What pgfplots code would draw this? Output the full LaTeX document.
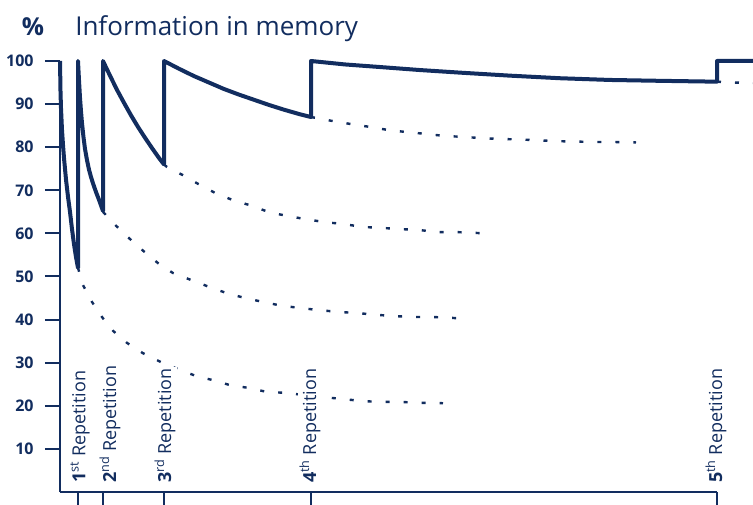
\documentclass[border=0pt]{standalone}
\usepackage{pgfplots}
\pgfplotsset{compat=1.18}
\usepackage{fontspec}
\setmainfont{Open Sans}
\definecolor{navy}{RGB}{18,45,95}
\tikzset{
  repet/.style={rotate=90, anchor=west, inner sep=1.5pt, fill=white,
    font=\fontsize{13.5}{15}\selectfont, text=navy},
  forget/.style={navy, line width=1.8pt, dash pattern=on 3pt off 10.5pt},
}

\begin{document}
\begin{tikzpicture}
\useasboundingbox (0,0) rectangle (564.75pt,378pt);
\begin{axis}[
  at={(45pt,9pt)}, anchor=south west,
  x=0.75pt, y=3.2325pt,
  xmin=0, xmax=657, ymin=0, ymax=100,
  axis lines=left,
  axis line style={-, line width=1.5pt, navy},
  clip=false,
  xtick={18,43,104,251,657}, xticklabels={},
  ytick={10,20,...,100},
  tick align=outside, major tick length=11.25pt,
  tick style={line width=1.5pt, navy},
  /pgf/number format/assume math mode=true,
  yticklabel style={font=\fontsize{12}{14}\selectfont\bfseries, text=navy, xshift=-5pt},
]
% forgetting curves without repetition
\addplot[forget] coordinates {(18,52) (23,48) (32,44.1) (42,40.6) (53,37.4) (67,34.6)
  (83,32.2) (104,29.8) (135,27) (152,26) (170,24.8) (190,24.1) (207,23.2) (227,23)
  (250,22.3) (282,21.6) (302,21.1) (320,20.9) (340,20.9) (360,20.7) (383,20.6)};
\addplot[forget] coordinates {(43,65) (55,62) (69,58.9) (83,56) (98,53.1) (113,50.8)
  (131,49.2) (149,47.6) (166,46.2) (185,45) (203,44.1) (222,43.2) (240,42.7) (259,42.2)
  (278,41.8) (298,41.5) (317,41.1) (335,40.8) (355,40.6) (373,40.6) (392,40.4) (398,40.3)};
\addplot[forget] coordinates {(104,76) (107,75.4) (123,73.5) (138,71.5) (155,69.4)
  (173,67.7) (192,66.4) (208,65) (228,64) (246,63.3) (265,62.6) (283,62.2) (302,61.5)
  (320,61.3) (340,61) (359,60.8) (377,60.3) (397,60.3) (417,60.1) (423,60)};
\addplot[forget] coordinates {(251,87) (272,86.1) (290,85.4) (310,84.7) (328,84)
  (347,83.5) (365,83.1) (385,82.6) (403,82.4) (422,82.1) (440,81.9) (460,81.8)
  (478,81.6) (497,81.4) (517,81.3) (535,81.2) (555,81.2) (576,81.1)};
\addplot[forget] coordinates {(657,95.2) (675,95.0) (693,94.9)};
% memory with repetitions
\addplot[navy, line width=3pt, line join=round] coordinates {
  (0,100) (0.5,93) (1,89) (2,84) (3,80.5) (4,77.5) (6,72.5) (8,68.5) (10,65)
  (12,61) (14,57.5) (16,54.5) (18,52)
  (18,100) (19,95.5) (20,91.5) (21,88.3) (22,85.6) (23.5,82.3) (25,79.6) (27,77)
  (29,74.8) (31,73.1) (33,71.6) (36,69.6) (39,67.8) (43,65.2)
  (43,100) (50,96.6) (57,93.3) (64,90.3) (71,87.4) (78,84.7) (85,82.2) (92,79.8)
  (99,77.5) (104,76)
  (104,100) (119,98.2) (134,96.5) (149,95) (164,93.5) (179,92.2) (194,91) (209,89.8)
  (224,88.7) (239,87.7) (251,87)
  (251,100) (285,99.2) (320,98.6) (360,97.9) (400,97.3) (450,96.6) (500,96)
  (550,95.6) (600,95.4) (657,95.2) (657,100) (693,100)};
\node[repet] at (axis cs:20,1.6) {\textbf{1}\textsuperscript{st} Repetition};
\node[repet] at (axis cs:50,1.6) {\textbf{2}\textsuperscript{nd} Repetition};
\node[repet] at (axis cs:105,1.6) {\textbf{3}\textsuperscript{rd} Repetition};
\node[repet] at (axis cs:250,1.6) {\textbf{4}\textsuperscript{th} Repetition};
\node[repet] at (axis cs:656,1.6) {\textbf{5}\textsuperscript{th} Repetition};
\node[anchor=base west, inner sep=0pt, text=navy,
  font=\fontsize{19.5}{22}\selectfont] at (axis cs:15,105.8) {Information in memory};
\node[anchor=base, inner sep=0pt, text=navy,
  font=\fontsize{18.5}{20}\selectfont\bfseries] at (axis cs:-27,105.8) {\%};
\end{axis}
\end{tikzpicture}
\end{document}
